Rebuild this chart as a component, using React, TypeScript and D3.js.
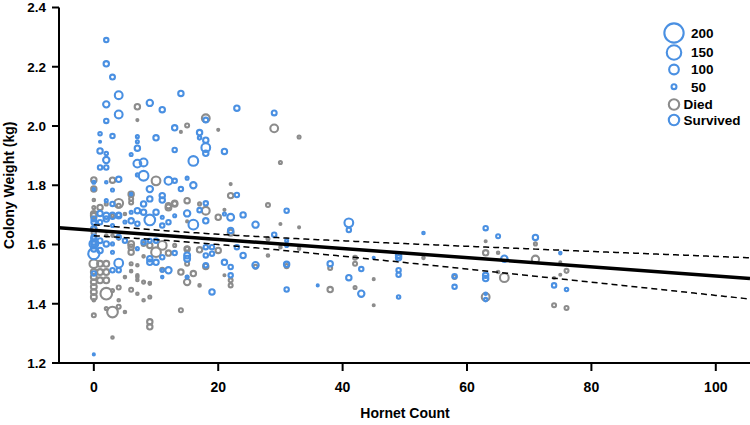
import React from 'react';
import * as d3 from 'd3';

// [hornet count, colony weight (kg), colony size]
const survived: [number, number, number][] = [
  [2,2.29,45],[2,2.21,55],[3,2.165,50],[4,2.104,80],[2,2.073,65],[4,2.039,80],[9,2.078,65],[11,2.055,55],[14,2.11,55],[23,2.06,55],[29,2.044,50],[2,2.017,45],[1,1.974,35],[1,1.947,20],[3,1.966,45],[7,1.964,30],[7,1.947,30],[7,1.925,55],[10,1.96,55],[13,1.994,55],[18,2.02,50],[17,1.978,55],[17,1.96,35],[18,1.952,55],[18,1.927,90],[18,1.908,55],[21,1.914,55],[13,1.919,45],[6,1.904,30],[1,1.916,55],[2,1.907,35],[2,1.885,65],[1,1.86,45],[2,1.86,45],[7,1.873,80],[8,1.877,80],[16,1.882,100],[8,1.832,100],[7,1.835,30],[12,1.815,80],[13,1.815,45],[15,1.824,30],[16,1.80,65],[0,1.81,30],[0,1.786,25],[4,1.82,55],[2,1.81,25],[3,1.784,30],[9,1.787,65],[14,1.787,45],[6,1.77,25],[23,1.767,45],[11,1.765,55],[11,1.75,55],
  [2,1.748,30],[3,1.737,45],[8,1.737,55],[9,1.754,55],[7,1.714,55],[6,1.709,30],[9,1.683,110],[4,1.70,45],[1,1.705,55],[2,1.686,55],[0,1.686,50],[0,1.675,50],[0,1.653,50],[0,1.625,50],[0,1.608,50],[1,1.675,45],[3,1.664,30],[5,1.676,30],[7,1.67,45],[4,1.625,45],[5,1.613,45],[8,1.608,45],[9,1.613,40],[10,1.613,45],
  [2,1.697,65],[3,1.697,65],[4,1.697,55],[6,1.68,55],[8,1.709,55],[10,1.709,55],[11,1.692,30],[15,1.705,65],[13,1.697,30],[12,1.675,45],[16,1.667,100],[18,1.68,55],[21,1.703,30],[22,1.692,70],[22,1.647,55],[23,1.591,45],[18,1.739,45],[17,1.716,45],[24,1.70,55],[26,1.667,65],[11,1.664,45],
  [0,1.569,115],[0,1.602,90],[0,1.619,55],[0,1.602,55],[0,1.585,55],[1,1.613,50],[1,1.58,55],[2,1.602,55],[3,1.574,30],[3,1.602,30],[0,1.229,20],[4,1.537,90],[3,1.513,45],[4,1.513,45],[0,1.502,45],[9,1.552,55],[9,1.54,55],[10,1.54,55],[11,1.557,45],[12,1.513,65],[11,1.513,30],[11,1.49,25],[15,1.563,60],[15,1.552,60],[15,1.49,30],[18,1.563,45],[19,1.569,45],[19,1.44,55],[18,1.53,45],[21,1.54,55],[22,1.524,45],[22,1.496,45],[13,1.571,45],[18,1.591,45],[19,1.591,45],[24,1.563,55],[26,1.53,65],[7,1.586,30],
  [31,1.714,45],[29,1.633,45],[31,1.613,30],[31,1.597,30],[31,1.533,55],[31,1.448,45],[41,1.673,90],[41,1.649,45],[38,1.535,55],[36,1.462,20],[43,1.517,45],[41,1.488,55],[43,1.434,65],[45,1.555,20],[49,1.563,55],[49,1.555,55],[49,1.513,45],[49,1.498,45],[49,1.423,35],[53,1.639,25],[58,1.493,45],[58,1.457,45],[63,1.655,45],[65,1.628,40],[66,1.552,65],[63,1.496,55],[63,1.485,55],[63,1.434,25],[63,1.414,35],[71,1.624,55],[75,1.571,25],[74,1.462,45],[76,1.448,35],
];

const died: [number, number, number][] = [
  [7,2.065,55],[7,2.02,20],[15,2.002,40],[14,1.98,20],[18,2.026,80],[20,1.987,20],[29,1.992,80],[33,1.963,30],[30,1.877,30],[10,1.815,90],[0,1.818,55],[0,1.787,55],[3,1.817,55],[6,1.77,55],[22,1.804,20],[22,1.765,55],
  [0,1.75,25],[0,1.725,30],[0,1.703,60],[4,1.739,90],[6,1.754,40],[6,1.742,40],[5,1.703,25],[3,1.697,30],
  [0,1.697,60],[12,1.725,60],[13,1.737,55],[20,1.692,55],[15,1.748,55],[17,1.737,30],[1,1.725,55],[2,1.737,30],[4,1.731,40],[12,1.731,55],[13,1.739,55],[18,1.714,80],[15,1.678,20],[21,1.717,20],[22,1.64,60],[28,1.733,40],[30,1.669,20],[33,1.658,20],[28,1.619,30],[30,1.591,25],[33,1.586,25],[28,1.563,25],
  [2,1.63,25],[3,1.63,25],[0,1.535,90],[0,1.507,60],[0,1.49,60],[0,1.473,60],[0,1.457,60],[0,1.44,60],[0,1.423,60],[0,1.412,25],[0,1.361,40],[1,1.535,60],[2,1.535,60],[1,1.507,60],[2,1.507,60],[1,1.479,60],[2,1.479,60],[2,1.434,120],[3,1.445,30],[4,1.455,40],[6,1.447,40],[4,1.412,25],[3,1.372,110],[2,1.384,30],[4,1.39,40],[3,1.286,25],[7,1.434,25],[8,1.473,30],[9,1.423,30],[9,1.339,55],[9,1.322,55],[9,1.47,25],[14,1.378,40],[5,1.49,25],[6,1.51,25],[7,1.496,25],[7,1.53,25],[6,1.574,55],[6,1.591,55],[8,1.56,25],[10,1.574,100],[14,1.507,55],[15,1.473,65],[15,1.49,25],[15,1.585,55],[16,1.502,55],[17,1.582,55],[20,1.58,55],[17,1.462,25],[22,1.479,40],[22,1.462,40],[11,1.597,90],[12,1.571,55],[13,1.597,30],[11,1.515,40],[15,1.586,40],[15,1.535,40],[18,1.526,55],[21,1.496,20],[26,1.525,40],[4,1.62,25],[6,1.602,60],[8,1.602,40],[9,1.597,55],[7,1.49,25],[7,1.48,25],[9,1.468,25],[6,1.535,30],[5,1.372,25],[8,1.412,25],[0,1.653,55],[0,1.64,45],
  [31,1.527,40],[38,1.521,40],[38,1.448,55],[42,1.555,40],[42,1.535,40],[42,1.455,30],[45,1.483,20],[45,1.395,20],[53,1.555,25],[58,1.49,40],[63,1.611,20],[63,1.572,55],[65,1.572,25],[65,1.507,25],[66,1.488,90],[63,1.423,80],[71,1.602,30],[71,1.55,75],[75,1.54,20],[76,1.511,40],[75,1.498,20],[74,1.487,20],[74,1.395,40],[76,1.386,40],
];

const xTicks = [0, 20, 40, 60, 80, 100];
const yTicks = [1.2, 1.4, 1.6, 1.8, 2.0, 2.2, 2.4];
const legendSizes = [200, 150, 100, 50];
const statusLabels = ['Died', 'Survived'];

// regression fit and confidence band parameters
const fitIntercept = 1.648;
const fitSlope = -0.00154;
const ciMeanX = 12;
const ciA = 0.000267;
const ciB = 5.24e-7;

const BLUE = '#4a90e2';
const GRAY = '#8c8c8c';
const FONT = '"Liberation Sans", Arial, Helvetica, sans-serif';

export default function App() {
  const W = 750, H = 425;
  const x = d3.scaleLinear().domain([-5.6, 105.5]).range([59, 750]);
  const y = d3.scaleLinear().domain([1.2, 2.4]).range([363, 7.5]);
  const r = d3.scaleLinear().domain([0, 200]).range([1.1, 10.7]);
  const sw = 2.1;

  const fit = (h: number) => fitIntercept + fitSlope * h;
  const half = (h: number) => Math.sqrt(ciA + ciB * (h - ciMeanX) ** 2);
  const xs = d3.range(0, 105.5 + 0.001, 0.5);
  const upper = d3.line<number>().x(d => x(d)).y(d => y(fit(d) + half(d)))(xs) || '';
  const lower = d3.line<number>().x(d => x(d)).y(d => y(fit(d) - half(d)))(xs) || '';
  const [x0, x1] = x.domain();

  const drawPt = (p: [number, number, number], color: string, i: number, k: string) => {
    const ro = r(p[2]);
    return (
      <circle key={k + i} cx={x(p[0])} cy={y(p[1])} r={Math.max(ro - sw / 2, 0.8)}
        fill="none" stroke={color} strokeWidth={sw} />
    );
  };

  return (
    <svg width={W} height={H} style={{ position: 'absolute', left: 0, top: 0, background: '#fff' }}
      fontFamily={FONT}>
      <rect width={W} height={H} fill="#fff" />
      {died.map((p, i) => drawPt(p, GRAY, i, 'd'))}
      {survived.map((p, i) => drawPt(p, BLUE, i, 's'))}

      <line x1={x(x0)} y1={y(fit(x0))} x2={x(x1)} y2={y(fit(x1))} stroke="#000" strokeWidth={3.5} />
      <path d={upper} fill="none" stroke="#000" strokeWidth={1.5} strokeDasharray="6,4" />
      <path d={lower} fill="none" stroke="#000" strokeWidth={1.5} strokeDasharray="6,4" />

      {/* axes */}
      <line x1={59} y1={y(2.4)} x2={59} y2={y(1.2)} stroke="#000" strokeWidth={2} />
      <line x1={52} y1={y(1.2)} x2={750} y2={y(1.2)} stroke="#000" strokeWidth={2} />
      {yTicks.map(t => (
        <g key={'yt' + t}>
          <line x1={52} x2={59} y1={y(t)} y2={y(t)} stroke="#000" strokeWidth={2} />
          <text x={46} y={y(t)} dy="0.36em" textAnchor="end" fontSize={13.5} fontWeight="bold">{d3.format('.1f')(t)}</text>
        </g>
      ))}
      {xTicks.map(t => (
        <g key={'xt' + t}>
          <line x1={x(t)} x2={x(t)} y1={y(1.2)} y2={y(1.2) + 8} stroke="#000" strokeWidth={2} />
          <text x={x(t)} y={392} textAnchor="middle" fontSize={14} fontWeight="bold">{t}</text>
        </g>
      ))}
      <text x={405} y={418} textAnchor="middle" fontSize={14} fontWeight="bold">Hornet Count</text>
      <text transform={`translate(14,${(y(2.4) + y(1.2)) / 2}) rotate(-90)`} textAnchor="middle" fontSize={14} fontWeight="bold">Colony Weight (kg)</text>

      {/* legend */}
      {legendSizes.map((s, i) => {
        const cy = [33, 52.5, 69.5, 86.7][i];
        return (
          <g key={'ls' + s}>
            <circle cx={674} cy={cy} r={r(s) - sw / 2} fill="none" stroke={BLUE} strokeWidth={sw} />
            <text x={691} y={cy} dy="0.36em" fontSize={13.5} fontWeight="bold">{s}</text>
          </g>
        );
      })}
      {statusLabels.map((s, i) => {
        const cy = [104.5, 120][i];
        return (
          <g key={'lst' + s}>
            <circle cx={674} cy={cy} r={5.2} fill="none" stroke={i === 0 ? GRAY : BLUE} strokeWidth={sw} />
            <text x={683.5} y={cy} dy="0.36em" fontSize={13.5} fontWeight="bold">{s}</text>
          </g>
        );
      })}
    </svg>
  );
}
